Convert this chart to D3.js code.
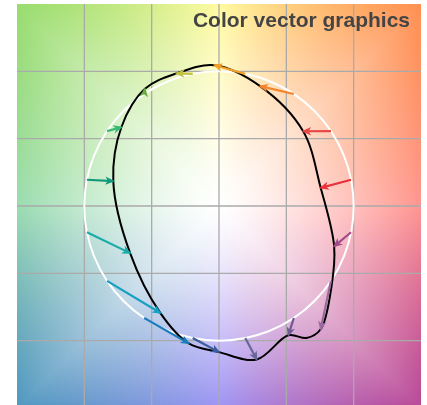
<!DOCTYPE html>
<html>
<head>
<meta charset="utf-8">
<script src="https://cdn.jsdelivr.net/npm/d3@7"></script>
<style>
  html, body { margin: 0; padding: 0; background: #fff; overflow: hidden; }
  #wrap { position: relative; width: 427px; height: 405px; }
  #bg, #chart { position: absolute; left: 0; top: 0; }
</style>
</head>
<body>
<div id="wrap">
  <canvas id="bg" width="427" height="405"></canvas>
  <svg id="chart" width="427" height="405"></svg>
</div>
<script>
// title
const title = "Color vector graphics";

// grid ticks (data units)
const gridTicks = [-2, -1, 0, 1, 2];

// radius of the reference circle
const circleRadius = 2;

// arrow start angles on the circle (degrees)
const arrowAngles = [78.75, 56.25, 33.75, 11.25, -11.25, -33.75, -56.25, -78.75,
  -101.25, -123.75, -146.25, -168.75, 168.75, 146.25, 123.75, 101.25];

// arrow tips
const tipX = [-0.07, 0.61, 1.25, 1.51, 1.71, 1.51, 1.03, 0.56,
  0.00, -0.45, -0.87, -1.32, -1.57, -1.45, -1.10, -0.63];
const tipY = [2.09, 1.78, 1.11, 0.27, -0.60, -1.83, -1.92, -2.28,
  -2.17, -2.04, -1.59, -0.70, 0.37, 1.17, 1.74, 1.97];

// arrow colours
const arrowColors = ["#f2a126", "#f7842c", "#ea4646", "#e8323c", "#a04a88", "#9a6a9e",
  "#6e5a8e", "#66679a", "#3a5c9c", "#1a7cba", "#16a0c2", "#18aca8",
  "#10987a", "#3ab878", "#6aaa40", "#c4c040"];

// black curve points
const curveX = [-0.07, 0.61, 1.25, 1.51, 1.71, 1.67, 1.51, 1.30, 1.03, 0.56,
  0.00, -0.45, -0.87, -1.32, -1.57, -1.45, -1.10, -0.63];
const curveY = [2.09, 1.78, 1.11, 0.27, -0.60, -1.20, -1.83, -1.96, -1.92, -2.28,
  -2.17, -2.04, -1.59, -0.70, 0.37, 1.17, 1.74, 1.97];

// background colours at the frame edge, every 45 degrees starting east
const edgeAngles = [0, 45, 90, 135, 180, 225, 270, 315, 360];
const edgeColors = ["#ff9590", "#ff9050", "#fffaa0", "#98dc6e", "#9adcb0",
  "#4e98c0", "#9c94f4", "#b84898", "#ff9590"];

const x = d3.scaleLinear().domain([-3, 3]).range([17, 421]);
const y = d3.scaleLinear().domain([-3, 3]).range([408, 4]);

// background field
const edgeLab = edgeColors.map(c => d3.lab(c));
const ctx = document.getElementById("bg").getContext("2d");
const img = ctx.createImageData(427, 405);
for (let py = 0; py < 405; py++) {
  for (let px = 0; px < 427; px++) {
    if (px < 17 || px >= 421 || py < 4) continue;
    const dx = x.invert(px + 0.5), dy = y.invert(py + 0.5);
    const r = Math.hypot(dx, dy);
    let a = Math.atan2(dy, dx) * 180 / Math.PI;
    if (a < 0) a += 360;
    const k = Math.min(7, Math.floor(a / 45));
    const f = (a - edgeAngles[k]) / 45;
    const c0 = edgeLab[k], c1 = edgeLab[k + 1];
    const rEdge = 3 / Math.max(Math.abs(Math.cos(a * Math.PI / 180)), Math.abs(Math.sin(a * Math.PI / 180)));
    const t = Math.pow(Math.min(1, r / rEdge), 1.3);
    const L = c0.l + (c1.l - c0.l) * f, A = c0.a + (c1.a - c0.a) * f, B = c0.b + (c1.b - c0.b) * f;
    const col = d3.lab(100 + (L - 100) * t, A * t, B * t).rgb();
    const i = (py * 427 + px) * 4;
    img.data[i] = col.r; img.data[i + 1] = col.g; img.data[i + 2] = col.b; img.data[i + 3] = 255;
  }
}
ctx.putImageData(img, 0, 0);

const svg = d3.select("#chart");

// grid
svg.append("g").selectAll("line").data(gridTicks).join("line")
  .attr("x1", d => x(d)).attr("x2", d => x(d))
  .attr("y1", y(3)).attr("y2", y(-3))
  .attr("stroke", "#aaaaaa").attr("stroke-width", 1.3);
svg.append("g").selectAll("line").data(gridTicks).join("line")
  .attr("y1", d => y(d)).attr("y2", d => y(d))
  .attr("x1", x(-3)).attr("x2", x(3))
  .attr("stroke", "#aaaaaa").attr("stroke-width", 1.3);

// white circle
svg.append("circle")
  .attr("cx", x(0)).attr("cy", y(0))
  .attr("r", x(circleRadius) - x(0))
  .attr("fill", "none").attr("stroke", "#fff").attr("stroke-width", 2);

// black curve
const line = d3.line()
  .x(i => x(curveX[i])).y(i => y(curveY[i]))
  .curve(d3.curveCatmullRomClosed);
svg.append("path")
  .attr("d", line(d3.range(curveX.length)))
  .attr("fill", "none").attr("stroke", "#000").attr("stroke-width", 2);

// arrows
const arrows = svg.append("g").selectAll("g").data(arrowAngles).join("g");
arrows.append("line")
  .attr("x1", d => x(circleRadius * Math.cos(d * Math.PI / 180)))
  .attr("y1", d => y(circleRadius * Math.sin(d * Math.PI / 180)))
  .attr("x2", (d, i) => x(tipX[i]))
  .attr("y2", (d, i) => y(tipY[i]))
  .attr("stroke", (d, i) => arrowColors[i])
  .attr("stroke-width", 2.2);
arrows.append("path")
  .attr("d", "M1.5,0 L-8,-4.2 L-5.5,0 L-8,4.2 Z")
  .attr("fill", (d, i) => arrowColors[i])
  .attr("transform", (d, i) => {
    const sx = x(circleRadius * Math.cos(d * Math.PI / 180));
    const sy = y(circleRadius * Math.sin(d * Math.PI / 180));
    const ex = x(tipX[i]), ey = y(tipY[i]);
    const ang = Math.atan2(ey - sy, ex - sx) * 180 / Math.PI;
    return `translate(${ex},${ey}) rotate(${ang})`;
  });

// title
svg.append("text")
  .attr("x", 410).attr("y", 27)
  .attr("text-anchor", "end")
  .attr("font-family", "Liberation Sans, Arial, sans-serif")
  .attr("font-weight", "bold")
  .attr("font-size", 21)
  .attr("fill", "#444")
  .text(title);
</script>
</body>
</html>
